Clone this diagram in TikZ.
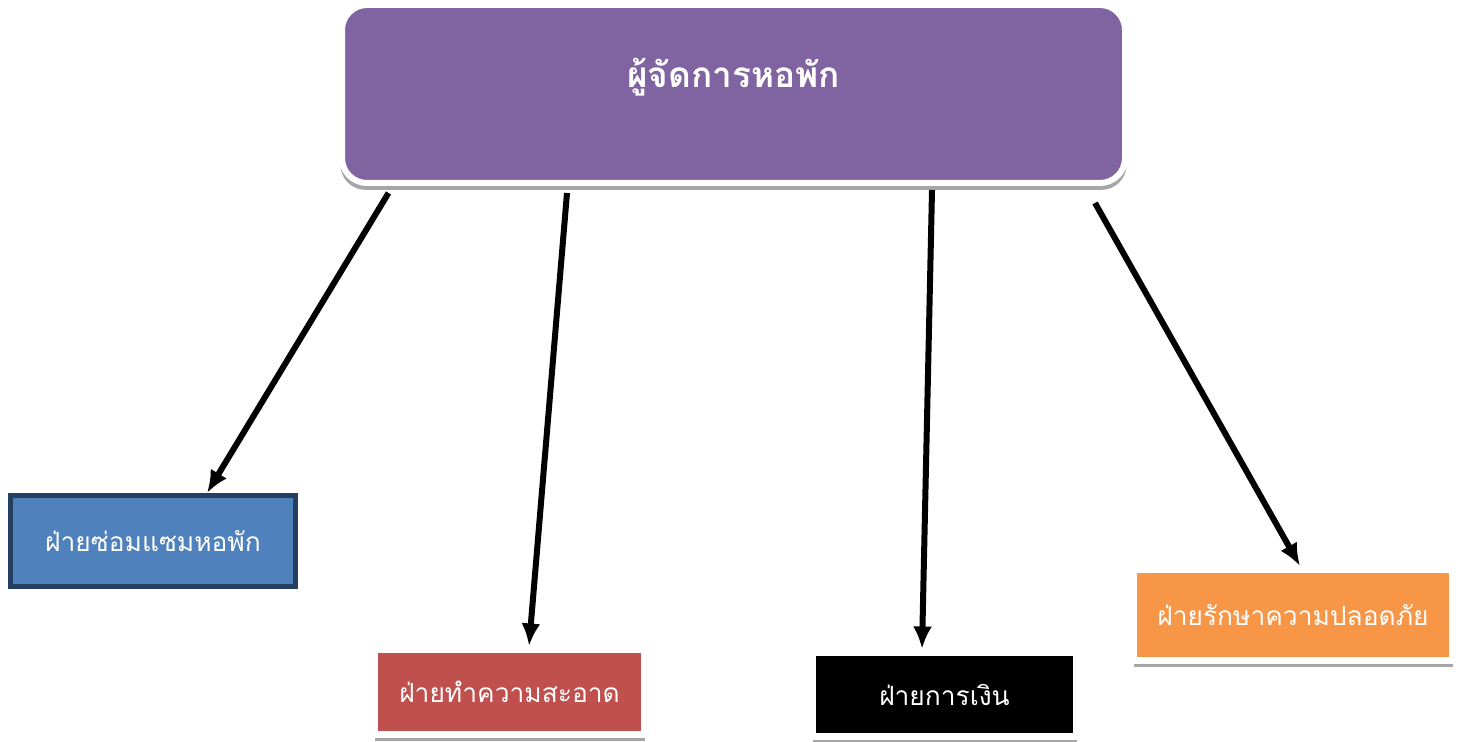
\documentclass[tikz,border=0pt]{standalone}
\usepackage{fontspec}
\newfontfamily\thaifont[Script=Thai]{Loma}
\usepackage{tikz}
\usetikzlibrary{arrows.meta,shadows}
\definecolor{headpurple}{HTML}{8064A2}
\definecolor{repairblue}{HTML}{4F81BD}
\definecolor{repairedge}{HTML}{243F60}
\definecolor{cleanred}{HTML}{C0504D}
\definecolor{guardorange}{HTML}{F79646}
\tikzset{
  unit/.style={rectangle,inner sep=0pt,text=white,font=\thaifont\fontsize{15}{18}\selectfont},
  framed/.style={unit,draw=white,line width=1.4mm,
    drop shadow={shadow xshift=0mm,shadow yshift=-1.3mm,fill=black!35,opacity=1}},
  link/.style={line width=1.2mm,-{Latex[length=4.5mm,width=3.8mm]}}
}

\begin{document}
\begin{tikzpicture}[x=0.2mm,y=-0.2mm]
\useasboundingbox (0,0) rectangle (1466,742);
%----------------head----------
\node (head) [unit,rounded corners=5mm,fill=headpurple,draw=white,line width=1.2mm,
  minimum width=156.6mm,minimum height=35.6mm,
  font=\thaifont\bfseries\fontsize{20}{24}\selectfont,text height=4mm,text depth=6.6mm,
  drop shadow={shadow xshift=0mm,shadow yshift=-1.3mm,shadow scale=1.004,fill=black!35,opacity=1}]
  at (733.5,94) {ผู้จัดการหอพัก};
%----------------sections----------
\node (repair) [unit,fill=repairblue,draw=repairedge,line width=1mm,
  minimum width=57mm,minimum height=18.2mm] at (153,541) {ฝ่ายซ่อมแซมหอพัก};
\node (clean) [framed,fill=cleanred,minimum width=54mm,minimum height=17mm]
  at (509.5,692) {ฝ่ายทำความสะอาด};
\node (money) [framed,fill=black,minimum width=52.8mm,minimum height=16.8mm]
  at (944.5,694.5) {ฝ่ายการเงิน};
\node (guard) [framed,fill=guardorange,minimum width=63.8mm,minimum height=18.2mm]
  at (1293,615) {ฝ่ายรักษาความปลอดภัย};
%----------------arrows----------
\draw[link] ([xshift=-69mm,yshift=-1.4mm]head.south)--([xshift=10.8mm]repair.north);
\draw[link] ([xshift=-33.3mm,yshift=-1.4mm]head.south)--([xshift=3.9mm]clean.north);
\draw[link] ([xshift=39.7mm,yshift=-0.8mm]head.south)--([xshift=-4.5mm]money.north);
\draw[link] ([xshift=72.3mm,yshift=-3.4mm]head.south)--([xshift=1.4mm]guard.north);
\end{tikzpicture}
\end{document}
